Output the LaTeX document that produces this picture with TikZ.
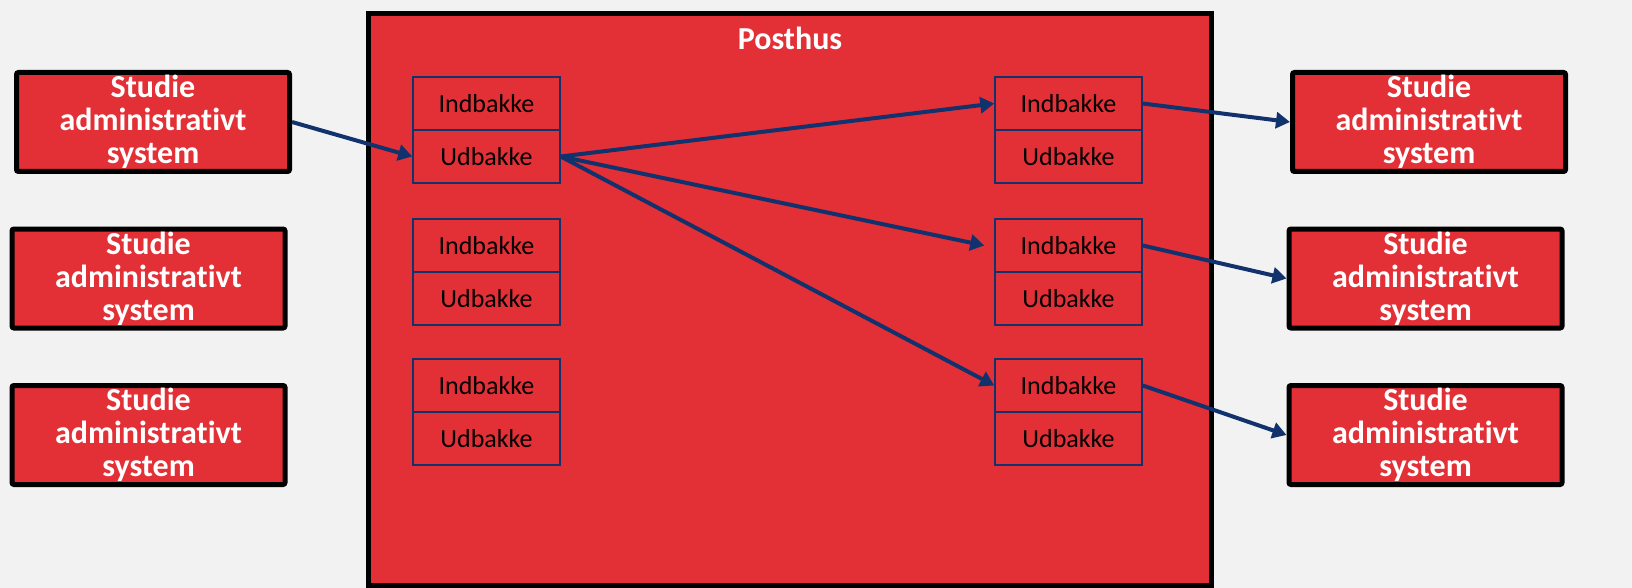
\documentclass[tikz,border=0pt]{standalone}
\usepackage{fontspec}
\setmainfont{Carlito}[Ligatures=NoCommon]
\usetikzlibrary{arrows.meta, positioning}
\definecolor{boxred}{HTML}{E33036}
\definecolor{pilblue}{HTML}{12326E}
\definecolor{bggray}{HTML}{F2F2F2}

\begin{document}
\begin{tikzpicture}[x=1pt, y=-1pt,
		posthus/.style={draw=black, line width=5pt, fill=boxred, minimum width=843pt, minimum height=572pt, inner sep=0pt},
		sys/.style={draw=black, line width=5pt, fill=boxred, rounded corners=2pt, minimum width=273pt, minimum height=99pt, inner sep=0pt, align=center, text=white, font=\fontsize{32}{33}\selectfont\bfseries},
		bakke/.style={draw=pilblue, line width=1.5pt, fill=boxred, minimum width=147pt, minimum height=53pt, inner sep=0pt, font=\fontsize{26}{30}\selectfont},
		pil/.style={draw=pilblue, line width=4pt, -{Triangle[length=14pt,width=16pt]}}]
				\fill[bggray] (0,0) rectangle (1632,588);
				\useasboundingbox (0,0) rectangle (1632,588);
				% posthus
				\node[posthus] (post) at (789.5,299.5) {};
				\node[text=white, font=\fontsize{32}{33}\selectfont\bfseries] (titel) at (790,38) {Posthus};
				% bakker, venstre
				\node[bakke] (ind1l) at (486.5,103.5) {Indbakke};
				\node[bakke] (ud1l) at (486.5,156.5) {Udbakke};
				\node[bakke] (ind2l) at (486.5,245.5) {Indbakke};
				\node[bakke] (ud2l) at (486.5,298.5) {Udbakke};
				\node[bakke] (ind3l) at (486.5,385.5) {Indbakke};
				\node[bakke] (ud3l) at (486.5,438.5) {Udbakke};
				% bakker, hoejre
				\node[bakke] (ind1r) at (1068.5,103.5) {Indbakke};
				\node[bakke] (ud1r) at (1068.5,156.5) {Udbakke};
				\node[bakke] (ind2r) at (1068.5,245.5) {Indbakke};
				\node[bakke] (ud2r) at (1068.5,298.5) {Udbakke};
				\node[bakke] (ind3r) at (1068.5,385.5) {Indbakke};
				\node[bakke] (ud3r) at (1068.5,438.5) {Udbakke};
				% systemer
				\node[sys] (sys1l) at (153,122) {Studie\\administrativt\\system};
				\node[sys] (sys2l) at (148.5,278.5) {Studie\\administrativt\\system};
				\node[sys] (sys3l) at (148.5,435) {Studie\\administrativt\\system};
				\node[sys] (sys1r) at (1429,122) {Studie\\administrativt\\system};
				\node[sys] (sys2r) at (1425.5,278.5) {Studie\\administrativt\\system};
				\node[sys] (sys3r) at (1425.5,435) {Studie\\administrativt\\system};
				% pile
				\draw[pil] (sys1l.east) -- (ud1l.west);
				\draw[pil] (ud1l.east) -- (ind1r.west);
				\draw[pil] (ud1l.east) -- ([xshift=-10pt]ind2r.west);
				\draw[pil] (ud1l.east) -- (ind3r.west);
				\draw[pil] (ind1r.east) -- (sys1r.west);
				\draw[pil] (ind2r.east) -- (sys2r.west);
				\draw[pil] (ind3r.east) -- (sys3r.west);
			\end{tikzpicture}
\end{document}
